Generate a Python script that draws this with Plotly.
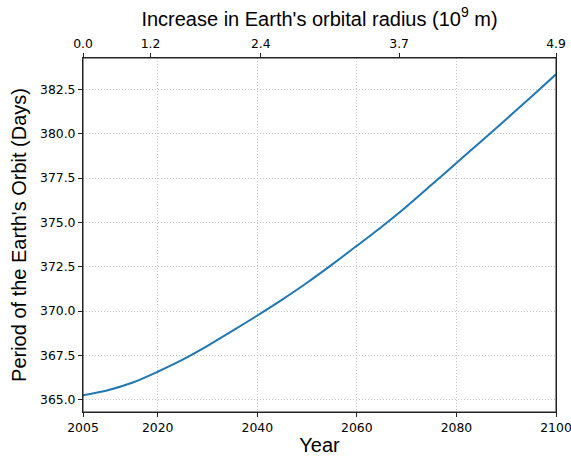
import plotly.graph_objects as go

# ---- data ----
years = [2005, 2010, 2015, 2020, 2025, 2030, 2035, 2040, 2045, 2050,
         2055, 2060, 2065, 2070, 2075, 2080, 2085, 2090, 2095, 2100]
period_days = [365.26, 365.54, 365.97, 366.58, 367.26, 368.04, 368.88, 369.75, 370.65, 371.60,
               372.62, 373.68, 374.76, 375.90, 377.12, 378.35, 379.58, 380.82, 382.07, 383.35]

bottom_tick_years = [2005, 2020, 2040, 2060, 2080, 2100]
top_tick_years = [2005, 2018.57, 2040.7, 2068.5, 2100]
top_tick_labels = ["0.0", "1.2", "2.4", "3.7", "4.9"]
y_tick_vals = [365.0, 367.5, 370.0, 372.5, 375.0, 377.5, 380.0, 382.5]

TICK_FONT = dict(family="DejaVu Sans", size=12.4, color="#000000")
LABEL_FONT = dict(family="Liberation Sans, Arial", size=20, color="#000000")
AXIS_COLOR = "#222222"
GRID_COLOR = "#c4c4c4"
GRID_DASH = "1px,2px"

fig = go.Figure()
fig.add_trace(go.Scatter(
    x=years, y=period_days, mode="lines",
    line=dict(color="#1f77b4", width=2, shape="spline", smoothing=0.8),
    hoverinfo="skip", showlegend=False, xaxis="x", yaxis="y",
))
# invisible trace so the top axis is drawn
fig.add_trace(go.Scatter(
    x=years, y=period_days, mode="lines",
    line=dict(color="rgba(0,0,0,0)", width=0),
    hoverinfo="skip", showlegend=False, xaxis="x2", yaxis="y",
))

fig.update_layout(
    width=571, height=457,
    margin=dict(l=83, r=15, t=58, b=45),
    paper_bgcolor="white", plot_bgcolor="white",
    xaxis=dict(
        range=[2005, 2100], tickvals=bottom_tick_years, automargin=False,
        ticklabeloverflow="allow",
        ticks="outside", ticklen=4, tickwidth=1, tickcolor=AXIS_COLOR,
        showline=True, linecolor=AXIS_COLOR, linewidth=1, mirror=False,
        showgrid=True, gridcolor=GRID_COLOR, griddash=GRID_DASH, gridwidth=1,
        zeroline=False, tickfont=TICK_FONT,
        title=dict(text="Year", font=LABEL_FONT, standoff=4),
    ),
    xaxis2=dict(
        range=[2005, 2100], overlaying="x", side="top", anchor="y", automargin=False,
        ticklabeloverflow="allow",
        tickvals=top_tick_years, ticktext=top_tick_labels,
        ticks="outside", ticklen=4, tickwidth=1, tickcolor=AXIS_COLOR,
        showline=True, linecolor=AXIS_COLOR, linewidth=1,
        showgrid=False, zeroline=False, tickfont=TICK_FONT,
        title=dict(text="Increase in Earth's orbital radius (10<sup>9</sup> m)",
                   font=LABEL_FONT, standoff=4),
    ),
    yaxis=dict(
        range=[364.31, 384.27], tickvals=y_tick_vals, tickformat=".1f", automargin=False,
        ticks="outside", ticklen=4, tickwidth=1, tickcolor=AXIS_COLOR,
        showline=True, linecolor=AXIS_COLOR, linewidth=1, mirror=True,
        showgrid=True, gridcolor=GRID_COLOR, griddash=GRID_DASH, gridwidth=1,
        zeroline=False, tickfont=TICK_FONT,
        title=dict(text="Period of the Earth's Orbit (Days)", font=LABEL_FONT, standoff=8),
    ),
    shapes=[dict(type="rect", xref="paper", yref="paper", x0=0, x1=1, y0=0, y1=1,
                 line=dict(color=AXIS_COLOR, width=1), fillcolor="rgba(0,0,0,0)", layer="above")],
)

fig.write_html("out.html")
